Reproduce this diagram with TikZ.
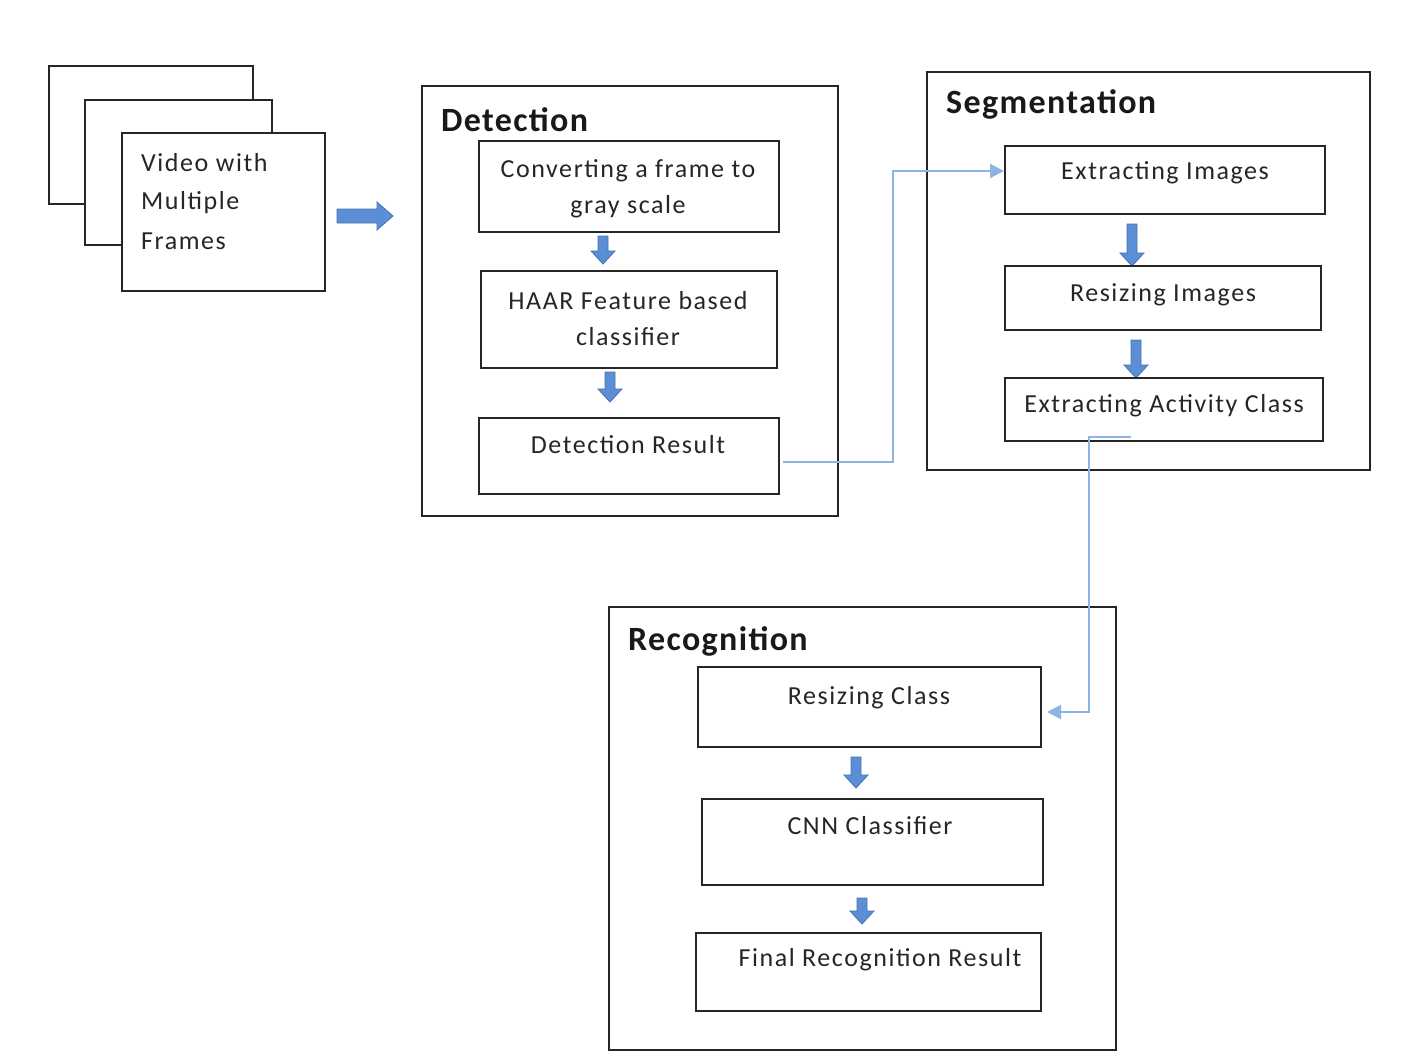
\documentclass[tikz,border=0pt]{standalone}
\usepackage{fontspec}
\setmainfont{Carlito}
\newfontfamily\bodyfont[LetterSpace=6]{Carlito}
\newfontfamily\titlefont[LetterSpace=4]{Carlito}
\usetikzlibrary{arrows.meta}
\definecolor{fatfill}{RGB}{91,142,212}
\definecolor{fatdraw}{RGB}{70,115,180}
\definecolor{linkblue}{RGB}{141,180,226}
\newcommand\fatdown[3]{\filldraw[fatarrow] (#1-5,#2) -- (#1+5,#2) -- (#1+5,#3-13) -- (#1+12,#3-13) -- (#1,#3) -- (#1-12,#3-13) -- (#1-5,#3-13) -- cycle;}
\begin{document}
\begin{tikzpicture}[x=1pt,y=-1pt,
  box/.style={draw=black!85,line width=1.8pt,fill=white,inner sep=0pt},
  txt/.style={font=\bodyfont\fontsize{26}{36}\selectfont,align=center,inner sep=0pt,text=black!85},
  ttl/.style={font=\titlefont\fontsize{34}{38}\selectfont\bfseries,anchor=west,inner sep=0pt,text=black!90},
  fatarrow/.style={fill=fatfill,draw=fatdraw,line width=0.8pt,line join=miter},
  link/.style={draw=linkblue,line width=2pt,-{Triangle[length=14pt,width=14pt]}}]
\useasboundingbox (0,0) rectangle (1404,1054);
% video frames
\draw[box] (49,66) rectangle (253,204);
\draw[box] (85,100) rectangle (272,245);
\draw[box] (122,133) rectangle (325,291);
\node[txt,anchor=west,align=left] (vid) at (141,202) {Video with\\[2pt]Multiple\\[4pt]Frames};
% big right arrow
\filldraw[fatarrow] (337,209) -- (377,209) -- (377,202) -- (393,216) -- (377,230) -- (377,223) -- (337,223) -- cycle;
% Detection
\draw[box] (422,86) rectangle (838,516);
\node[ttl] (dett) at (441,120) {Detection};
\draw[box] (479,141) rectangle (779,232);
\node[txt] (conv) at (628,189) {Converting a frame to\\gray scale};
\fatdown{603}{236}{264}
\draw[box] (481,271) rectangle (777,368);
\node[txt] (haar) at (628,319) {HAAR Feature based\\classifier};
\fatdown{610}{372}{402}
\draw[box] (479,418) rectangle (779,494);
\node[txt] (detr) at (628,445) {Detection Result};
\coordinate (detout) at (783,462);
% Segmentation
\draw[box] (927,72) rectangle (1370,470);
\node[ttl] (segt) at (946,104) {Segmentation};
\draw[box] (1005,146) rectangle (1325,214);
\node[txt] (exti) at (1165,173) {Extracting Images};
\coordinate (segin) at (1004,171);
\fatdown{1132}{224}{266}
\draw[box] (1005,266) rectangle (1321,330);
\node[txt] (resi) at (1163,295) {Resizing Images};
\fatdown{1136}{340}{378}
\draw[box] (1005,378) rectangle (1323,441);
\node[txt] (exta) at (1164,406) {Extracting Activity Class};
\coordinate (segout) at (1131,437);
% Recognition
\draw[box] (609,607) rectangle (1116,1050);
\node[ttl] (rect) at (628,641) {Recognition};
\draw[box] (698,667) rectangle (1041,747);
\node[txt] (resc) at (869,698) {Resizing Class};
\coordinate (recin) at (1047,712);
\fatdown{856}{757}{788}
\draw[box] (702,799) rectangle (1043,885);
\node[txt] (cnn) at (870,826) {CNN Classifier};
\fatdown{862}{898}{924}
\draw[box] (696,933) rectangle (1041,1011);
\node[txt] (fin) at (880,960) {Final Recognition Result};
% links
\draw[link] (detout) -- (893,462) -- (893,171) -- (segin);
\draw[link] (segout) -- (1089,437) -- (1089,712) -- (recin);
\end{tikzpicture}
\end{document}
